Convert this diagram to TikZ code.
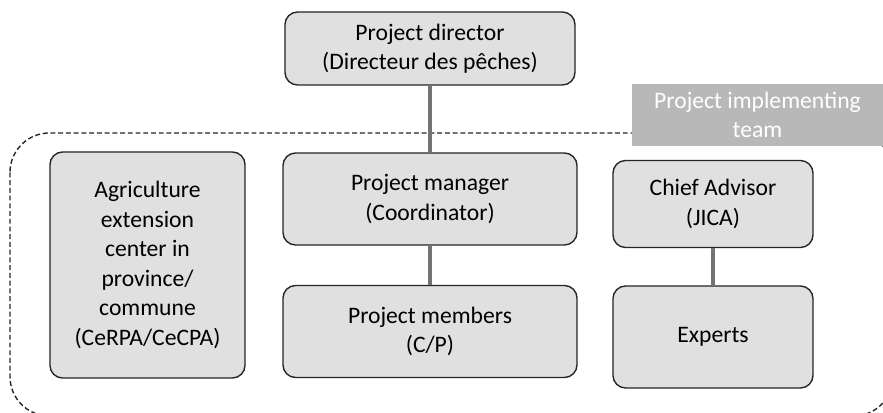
\documentclass[tikz,border=0pt]{standalone}
\usepackage{fontspec}
\setmainfont{Carlito}

\begin{document}
\begin{tikzpicture}[x=0.025cm,y=-0.025cm,
  every node/.style={font=\fontsize{16.8}{21}\selectfont,align=center},
  orgbox/.style={draw=black!85,line width=1pt,fill=black!12,rounded corners=9pt,inner sep=0pt},
  link/.style={draw=black!55,line width=2.2pt}]
\useasboundingbox (0,0) rectangle (883,413);
\draw[black!85,line width=1pt,dash pattern=on 3.5pt off 2pt,rounded corners=28pt] (10,133) rectangle (893,416);
\node[fill=black!28,text=white,minimum width=6.275cm,minimum height=1.55cm,inner sep=0pt] (team) at (757.5,115) {Project implementing\\team};
\node[orgbox,minimum width=7.25cm,minimum height=1.825cm] (director) at (430,48.5) {Project director\\(Directeur des pêches)};
\node[orgbox,minimum width=7.35cm,minimum height=2.3cm] (manager) at (430,199) {Project manager\\(Coordinator)};
\node[orgbox,minimum width=7.35cm,minimum height=2.3cm] (members) at (430,331.5) {Project members\\(C/P)};
\node[orgbox,minimum width=4.875cm,minimum height=5.65cm] (agri) at (147.5,265) {Agriculture\\extension\\center in\\province/\\commune\\(CeRPA/CeCPA)};
\node[orgbox,minimum width=5cm,minimum height=2.175cm] (advisor) at (713,204) {Chief Advisor\\(JICA)};
\node[orgbox,minimum width=5cm,minimum height=2.55cm] (experts) at (713,337) {Experts};
\draw[link] (director) -- (manager);
\draw[link] (manager) -- (members);
\draw[link] (advisor) -- (experts);
\end{tikzpicture}
\end{document}
